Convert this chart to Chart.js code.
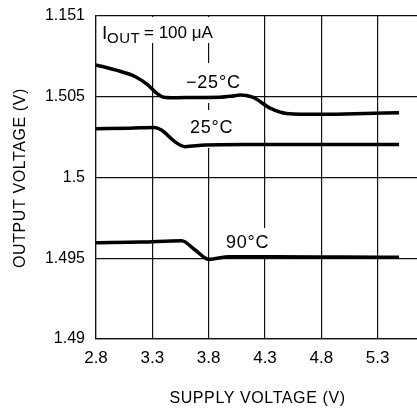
<!DOCTYPE html>
<html><head><meta charset="utf-8">
<script src="https://cdn.jsdelivr.net/npm/chart.js@4"></script>
<style>
html,body{margin:0;padding:0;overflow:hidden;background:#fff;width:417px;height:410px}
#wrap{width:417px;height:410px;overflow:hidden;position:relative;background:#fff}
canvas{display:block}
</style></head>
<body><div id="wrap"><canvas id="c" width="445" height="410" style="width:445px;height:410px"></canvas></div>
<script>
// ---- data ----
const xTickLabels = ['2.8','3.3','3.8','4.3','4.8','5.3'];
const yTickLabels = ['1.49','1.495','1.5','1.505','1.151'];

const xM25 = [2.8, 2.97, 3.15, 3.26, 3.34, 3.40, 3.5, 3.7, 3.9, 4.0, 4.08, 4.19, 4.35, 4.49, 4.79, 5.1, 5.49];
const yM25 = [1.50697, 1.50666, 1.50624, 1.50573, 1.50521, 1.50497, 1.50494, 1.50496, 1.50497, 1.50503, 1.50511, 1.50497, 1.50428, 1.50397, 1.50391, 1.50395, 1.50401];

const x25 = [2.8, 3.1, 3.32, 3.38, 3.5, 3.59, 3.77, 4.2, 4.8, 5.49];
const y25 = [1.50302, 1.50305, 1.50310, 1.50294, 1.50222, 1.50191, 1.50201, 1.50204, 1.50205, 1.50205];

const x90 = [2.8, 3.2, 3.56, 3.68, 3.8, 3.98, 4.4, 5.0, 5.49];
const y90 = [1.49596, 1.49600, 1.49609, 1.49551, 1.49493, 1.49510, 1.49510, 1.49507, 1.49506];

const seriesNames = ['-25°C', '25°C', '90°C'];
const xTitle = 'SUPPLY VOLTAGE (V)';
const yTitle = 'OUTPUT VOLTAGE (V)';

function pts(xs, ys){ return xs.map((x,i)=>({x:x, y:ys[i]})); }

const FONT = '"Liberation Sans", Arial, sans-serif';

const annot = {
  id:'annot',
  beforeDatasetsDraw(chart){
    const c = chart.ctx;
    const top = chart.chartArea.top;
    c.save();
    // white boxes behind labels (cover grid lines)
    c.fillStyle = '#fff';
    c.fillRect(97, top + 1, 120, 43 - top - 1);
    c.fillRect(183, 63, 63, 40);
    c.fillRect(186, 110, 54, 38);
    c.fillRect(222, 228, 52, 27);
    c.fillStyle = '#000';
    c.textBaseline = 'alphabetic';
    c.textAlign = 'left';
    c.letterSpacing = '0.5px';
    c.font = '19px ' + FONT;
    c.fillText('I', 102, 39);
    c.font = '15px ' + FONT;
    c.fillText('OUT', 107, 43);
    c.letterSpacing = '0px';
    c.font = '17px ' + FONT;
    c.fillText('= 100 \u03bcA', 144, 38);
    c.letterSpacing = '0.8px';
    c.font = '18px ' + FONT;
    c.fillText('\u221225\u00b0C', 186, 88);
    c.fillText('25\u00b0C', 190, 133);
    c.fillText('90\u00b0C', 226, 248);
    c.restore();
  },
  afterDraw(chart){
    const c = chart.ctx;
    c.save();
    c.fillStyle = '#000';
    c.letterSpacing = '0.6px';
    c.font = '16px ' + FONT;
    c.textAlign = 'center';
    c.textBaseline = 'alphabetic';
    c.fillText(xTitle, 257.5, 403);
    c.translate(24.5, 178);
    c.rotate(-Math.PI/2);
    c.fillText(yTitle, 0, 0);
    c.restore();
  }
};

const line = (d) => ({
  data:d, borderColor:'#000', backgroundColor:'#000', borderWidth:3.5,
  pointRadius:0, fill:false, showLine:true, cubicInterpolationMode:'monotone', borderCapStyle:'butt'
});

new Chart(document.getElementById('c').getContext('2d'), {
  type:'scatter',
  data:{ datasets:[
    Object.assign(line(pts(xM25,yM25)), {label:seriesNames[0]}),
    Object.assign(line(pts(x25,y25)), {label:seriesNames[1]}),
    Object.assign(line(pts(x90,y90)), {label:seriesNames[2]})
  ]},
  options:{
    responsive:false, animation:false,
    layout:{padding:{top:16,right:11,bottom:0,left:0}},
    plugins:{legend:{display:false}, tooltip:{enabled:false}},
    scales:{
      x:{ type:'linear', min:2.8, max:5.8,
        ticks:{stepSize:0.5, color:'#000', font:{family:FONT, size:17}, padding:9, maxRotation:0,
          callback:(v,i)=>xTickLabels[i]},
        grid:{color:'#111', lineWidth:1.2, drawTicks:false},
        border:{color:'#111', width:1.2},
        afterFit:(s)=>{s.height=71; s.paddingLeft=0; s.paddingRight=0;}
      },
      y:{ min:1.49, max:1.51,
        ticks:{stepSize:0.005, color:'#000', font:{family:FONT, size:16}, padding:11,
          callback:(v,i)=>yTickLabels[i]},
        grid:{color:'#111', lineWidth:1.2, drawTicks:false},
        border:{color:'#111', width:1.2},
        afterFit:(s)=>{s.width=96; s.paddingTop=0; s.paddingBottom=0;}
      }
    }
  },
  plugins:[annot]
});
</script>
</body></html>
